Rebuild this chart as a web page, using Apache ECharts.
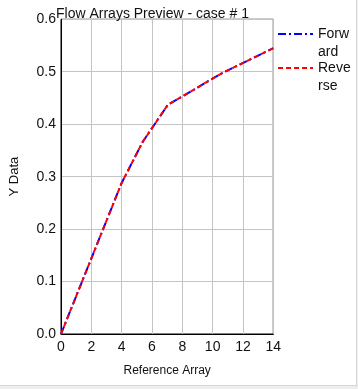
<!DOCTYPE html>
<html>
<head>
<meta charset="utf-8">
<script src="https://cdn.jsdelivr.net/npm/echarts@6/dist/echarts.min.js"></script>
<style>
html,body{margin:0;padding:0;background:#eeeeee;}
#wrap{position:absolute;left:0;top:0;width:356px;height:385px;background:#fff;border-right:1px solid #d6d6d6;border-bottom:1px solid #d6d6d6;}
#chart{width:356px;height:385px;}
</style>
</head>
<body>
<div id="wrap"><div id="chart"></div></div>
<script>
const titleText = 'Flow Arrays Preview - case # 1';
const seriesNames = ['Forward', 'Reverse'];
const legendLabels = ['Forw\nard', 'Reve\nrse'];
const xTicks = [0, 2, 4, 6, 8, 10, 12, 14];
const yTicks = [0.0, 0.1, 0.2, 0.3, 0.4, 0.5, 0.6];
const referenceArray = [0, 4, 5.4, 7.05, 10.6, 14];
const forwardValues = [0, 0.288, 0.367, 0.437, 0.497, 0.545];
const reverseValues = [0, 0.288, 0.367, 0.437, 0.497, 0.545];

const font = 'Liberation Sans, Arial, sans-serif';
const chart = echarts.init(document.getElementById('chart'), null, {renderer: 'canvas'});

function legendFor(i, top) {
  return {
    data: [{name: seriesNames[i], itemStyle: {opacity: 0}}],
    orient: 'vertical',
    left: 277,
    top: top,
    padding: 0,
    itemWidth: 35,
    itemHeight: 14,
    itemStyle: {opacity: 0},
    formatter: () => ' \n' + legendLabels[i],
    textStyle: {fontFamily: font, fontSize: 14, color: '#111', lineHeight: 18}
  };
}

chart.setOption({
  animation: false,
  backgroundColor: '#fff',
  title: {
    text: titleText, left: 56, top: 7, padding: 0,
    textStyle: {fontFamily: font, fontSize: 14, fontWeight: 'normal', color: '#111'}
  },
  legend: [legendFor(0, 7), legendFor(1, 41)],
  grid: {left: 57.5, right: 82.7, top: 19.3, bottom: 51, show: true, borderColor: '#000', borderWidth: 1, backgroundColor: '#fff'},
  xAxis: {
    type: 'value', min: xTicks[0], max: xTicks[xTicks.length - 1], interval: 2,
    name: 'Reference Array', nameLocation: 'middle', nameGap: 31,
    nameTextStyle: {fontFamily: font, fontSize: 12, color: '#111'},
    axisLine: {lineStyle: {color: '#000', width: 1}},
    axisTick: {show: false},
    axisLabel: {fontFamily: font, fontSize: 14, color: '#111', margin: 6},
    splitLine: {show: true, lineStyle: {color: '#c4c4c4', width: 1}}
  },
  yAxis: {
    type: 'value', min: yTicks[0], max: yTicks[yTicks.length - 1], interval: 0.1,
    name: 'Y Data', nameLocation: 'middle', nameGap: 40,
    nameTextStyle: {fontFamily: font, fontSize: 13, color: '#111'},
    axisLine: {show: true, lineStyle: {color: '#000', width: 1}},
    axisTick: {show: false},
    axisLabel: {fontFamily: font, fontSize: 14, color: '#111', margin: 5, formatter: v => v.toFixed(1)},
    splitLine: {show: true, lineStyle: {color: '#c4c4c4', width: 1}}
  },
  series: [
    {
      name: seriesNames[0], type: 'line', showSymbol: false, symbol: 'none',
      data: referenceArray.map((x, i) => [x, forwardValues[i]]),
      lineStyle: {color: '#0000ff', width: 2, type: [8, 3, 2, 3]},
      itemStyle: {color: '#0000ff'}
    },
    {
      name: seriesNames[1], type: 'line', showSymbol: false, symbol: 'none',
      data: referenceArray.map((x, i) => [x, reverseValues[i]]),
      lineStyle: {color: '#ff0000', width: 2, type: [5, 3]},
      itemStyle: {color: '#ff0000'}
    }
  ]
});
</script>
</body>
</html>
